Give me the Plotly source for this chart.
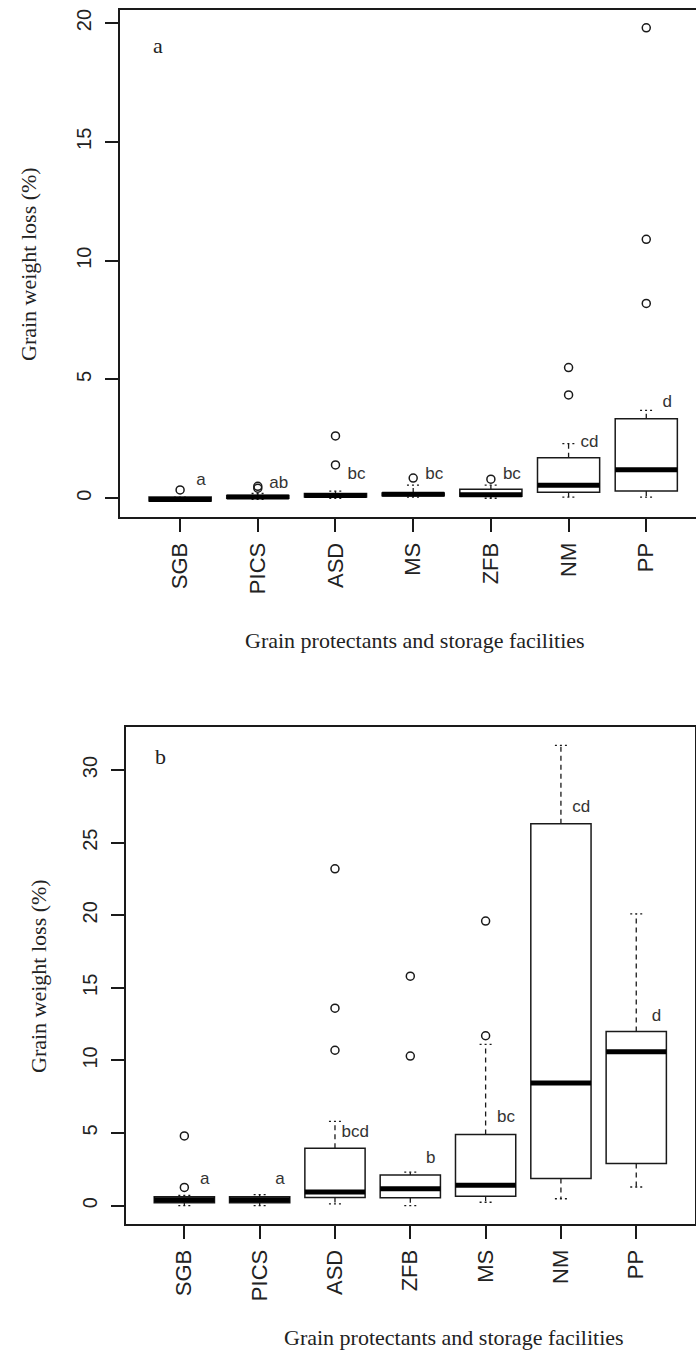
import plotly.graph_objects as go

W, H = 696, 1351

# ---------------- Panel a data ----------------
cats_a = ["SGB", "PICS", "ASD", "MS", "ZFB", "NM", "PP"]
low_a = [-0.12, -0.05, 0.0, 0.05, 0.0, 0.05, 0.05]
q1_a = [-0.12, 0.0, 0.05, 0.1, 0.08, 0.25, 0.3]
med_a = [-0.05, 0.05, 0.12, 0.17, 0.15, 0.55, 1.2]
q3_a = [0.05, 0.12, 0.2, 0.22, 0.38, 1.7, 3.35]
up_a = [0.05, 0.2, 0.3, 0.55, 0.55, 2.3, 3.7]
out_a = [[0.35], [0.42, 0.5], [1.4, 2.62], [0.85], [0.8], [4.35, 5.5], [8.2, 10.9, 19.8]]
let_a = ["a", "ab", "bc", "bc", "bc", "cd", "d"]
lety_a = [0.75, 0.6, 1.0, 1.0, 1.0, 2.35, 4.0]
yticks_a = [0, 5, 10, 15, 20]

# ---------------- Panel b data ----------------
cats_b = ["SGB", "PICS", "ASD", "ZFB", "MS", "NM", "PP"]
low_b = [0.0, 0.0, 0.12, 0.0, 0.23, 0.47, 1.28]
q1_b = [0.2, 0.2, 0.55, 0.53, 0.65, 1.86, 2.9]
med_b = [0.4, 0.4, 0.93, 1.16, 1.4, 8.45, 10.6]
q3_b = [0.6, 0.6, 3.95, 2.1, 4.9, 26.3, 12.0]
up_b = [0.7, 0.75, 5.8, 2.3, 11.1, 31.7, 20.1]
out_b = [[1.25, 4.8], [], [10.7, 13.6, 23.2], [10.3, 15.8], [11.7, 19.6], [], []]
let_b = ["a", "a", "bcd", "b", "bc", "cd", "d"]
lety_b = [1.8, 1.8, 5.0, 3.2, 6.05, 27.4, 13.0]
yticks_b = [0, 5, 10, 15, 20, 25, 30]

xtitle = "Grain protectants and storage facilities"
ytitle = "Grain weight loss (%)"

SANS = "Liberation Sans, Arial, sans-serif"
SERIF = "Liberation Serif, Times New Roman, serif"
INK = "#1a1a1a"

fig = go.Figure()


def add_panel(xa, ya, cats, low, q1, med, q3, up, outs, lets, letys):
    n = len(cats)
    pos = list(range(1, n + 1))
    # boxes (no whiskers; drawn separately dashed like R)
    for i in range(n):
        fig.add_trace(go.Box(
            x=[pos[i]], q1=[q1[i]], median=[med[i]], q3=[q3[i]],
            lowerfence=[q1[i]], upperfence=[q3[i]],
            width=0.8, whiskerwidth=0, fillcolor="white",
            line=dict(color=INK, width=1.5), boxpoints=False,
            xaxis=xa, yaxis=ya, showlegend=False, hoverinfo="skip"))
    wx, wy = [], []
    cx, cy = [], []
    mx, my = [], []
    for i in range(n):
        p = pos[i]
        wx += [p, p, None, p, p, None]
        wy += [q3[i], up[i], None, q1[i], low[i], None]
        cx += [p - 0.08, p + 0.08, None, p - 0.08, p + 0.08, None]
        cy += [up[i], up[i], None, low[i], low[i], None]
        mx += [p - 0.4, p + 0.4, None]
        my += [med[i], med[i], None]
    fig.add_trace(go.Scatter(x=wx, y=wy, mode="lines", xaxis=xa, yaxis=ya,
                             line=dict(color=INK, width=1.3, dash="5px,4px"),
                             showlegend=False, hoverinfo="skip"))
    fig.add_trace(go.Scatter(x=cx, y=cy, mode="lines", xaxis=xa, yaxis=ya,
                             line=dict(color=INK, width=1.3, dash="2px,3px"),
                             showlegend=False, hoverinfo="skip"))
    fig.add_trace(go.Scatter(x=mx, y=my, mode="lines", xaxis=xa, yaxis=ya,
                             line=dict(color="black", width=5),
                             showlegend=False, hoverinfo="skip"))
    ox, oy = [], []
    for i in range(n):
        for v in outs[i]:
            ox.append(pos[i])
            oy.append(v)
    fig.add_trace(go.Scatter(x=ox, y=oy, mode="markers", xaxis=xa, yaxis=ya,
                             marker=dict(symbol="circle-open", size=8,
                                         color=INK, line=dict(width=1.5, color=INK)),
                             showlegend=False, hoverinfo="skip"))
    fig.add_trace(go.Scatter(x=[p + 0.27 for p in pos], y=letys, mode="text",
                             text=lets, textposition="middle center",
                             textfont=dict(family=SANS, size=17, color="#333"),
                             xaxis=xa, yaxis=ya, showlegend=False, hoverinfo="skip"))
    return pos


pos_a = add_panel("x", "y", cats_a, low_a, q1_a, med_a, q3_a, up_a, out_a, let_a, lety_a)
pos_b = add_panel("x2", "y2", cats_b, low_b, q1_b, med_b, q3_b, up_b, out_b, let_b, lety_b)


def px_x(v):
    return v / W


def px_y(v):
    return 1 - v / H


common_x = dict(tickangle=-90, ticks="outside", ticklen=13, tickwidth=1.5, tickcolor=INK,
                showline=True, linecolor=INK, linewidth=2, showgrid=False, zeroline=False,
                tickfont=dict(family=SANS, size=22, color="#222"), ticklabelstandoff=2)
common_y = dict(tickangle=-90, ticks="outside", ticklen=13, tickwidth=1.5, tickcolor=INK,
                showline=True, linecolor=INK, linewidth=2, showgrid=False, zeroline=False,
                tickfont=dict(family=SANS, size=20, color="#222"), ticklabelstandoff=6)

fig.update_layout(
    width=W, height=H, margin=dict(l=0, r=0, t=0, b=0),
    paper_bgcolor="white", plot_bgcolor="white", showlegend=False,
    xaxis=dict(domain=[px_x(119.5), 1.0], range=[0.22, 7.64], anchor="y",
               tickvals=pos_a, ticktext=cats_a, mirror=True, **common_x),
    yaxis=dict(domain=[px_y(517), px_y(10)], range=[-0.79, 20.55], anchor="x",
               tickvals=yticks_a, mirror=False, **common_y),
    xaxis2=dict(domain=[px_x(125.6), px_x(695)], range=[0.22, 7.78], anchor="y2",
                tickvals=pos_b, ticktext=cats_b, mirror=True, **common_x),
    yaxis2=dict(domain=[px_y(1224), px_y(727)], range=[-1.27, 32.97], anchor="x2",
                tickvals=yticks_b, mirror=True, **common_y),
)

ann = [
    dict(text=xtitle, x=px_x(415), y=px_y(640), font=dict(family=SERIF, size=22, color="#222")),
    dict(text=xtitle, x=px_x(454), y=px_y(1337), font=dict(family=SERIF, size=22, color="#222")),
    dict(text=ytitle, x=px_x(28), y=px_y(264), textangle=-90, font=dict(family=SERIF, size=22, color="#222")),
    dict(text=ytitle, x=px_x(38), y=px_y(976), textangle=-90, font=dict(family=SERIF, size=22, color="#222")),
    dict(text="a", x=px_x(158), y=px_y(46), font=dict(family=SERIF, size=22, color="#222")),
    dict(text="b", x=px_x(160), y=px_y(756), font=dict(family=SERIF, size=22, color="#222")),
]
for a in ann:
    a.update(xref="paper", yref="paper", showarrow=False, xanchor="center", yanchor="middle")
fig.update_layout(annotations=ann)

fig.write_html("out.html")
